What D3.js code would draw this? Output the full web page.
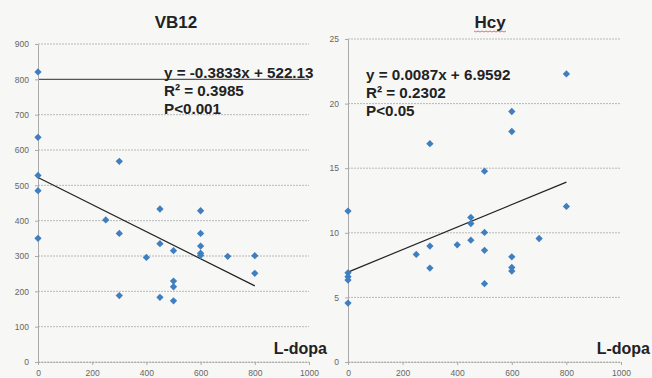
<!DOCTYPE html>
<html><head><meta charset="utf-8">
<script src="https://cdn.jsdelivr.net/npm/d3@7"></script>
<style>
html,body{margin:0;padding:0;background:#f7f7f5;}
svg{display:block;}
</style></head>
<body>
<svg id="c" width="652" height="378"></svg>
<script>
// ---- data ----
const xTicks = [0, 200, 400, 600, 800, 1000];
const vbTicks = [0, 100, 200, 300, 400, 500, 600, 700, 800, 900];
const hcyTicks = [0, 5, 10, 15, 20, 25];

const vbDose = [0,0,0,0,0, 250, 300,300,300, 400, 450,450,450, 500,500,500,500, 600,600,600,600,600, 700, 800,800];
const vbVals = [821,636,528,485,350, 402, 568,364,188, 296, 433,335,183, 315,229,213,173, 428,364,328,308,302, 299, 301,251];

const hcyDose = [0,0,0,0,0, 250, 300,300,300, 400, 450,450,450, 500,500,500,500, 600,600,600,600,600, 700, 800,800];
const hcyVals = [11.68,6.9,6.6,6.34,4.56, 8.33, 16.9,8.97,7.27, 9.07, 11.19,10.72,9.43, 14.77,10.03,8.64,6.06, 19.39,17.84,8.14,7.32,7.04, 9.56, 22.3,12.04];

const vbFit = {slope: -0.3833, intercept: 522.13, xmax: 800};
const hcyFit = {slope: 0.0087, intercept: 6.9592, xmax: 800};
const vbText = ["y = -0.3833x + 522.13", "R\u00b2 = 0.3985", "P<0.001"];
const hcyText = ["y = 0.0087x + 6.9592", "R\u00b2 = 0.2302", "P<0.05"];

const svg = d3.select("#c");
const font = "Liberation Sans, Arial, sans-serif";

function panel(opt) {
  const g = svg.append("g");
  const x = d3.scaleLinear().domain([0, 1000]).range([opt.x0, opt.x1]);
  const y = d3.scaleLinear().domain([0, opt.ymax]).range([opt.y0, opt.y1]);

  // gridlines
  g.selectAll(".grid").data(opt.yTicks).join("line")
    .attr("x1", opt.x0).attr("x2", opt.x1)
    .attr("y1", d => y(d)).attr("y2", d => y(d))
    .attr("stroke", d => d === opt.darkGrid ? "#555" : "#b8b8b8")
    .attr("stroke-width", d => d === opt.darkGrid ? 1.1 : 1)
    .attr("stroke-dasharray", d => d === opt.darkGrid ? null : "2,1");

  // y axis
  const ya = g.append("g").attr("transform", `translate(${opt.x0},0)`)
    .call(d3.axisLeft(y).tickValues(opt.yTicks).tickSize(3).tickSizeOuter(0).tickFormat(d3.format("d")));
  ya.select(".domain").attr("stroke", "#aaa");
  ya.selectAll(".tick line").attr("stroke", "#aaa");
  ya.selectAll("text").attr("fill", "#666").attr("font-size", 8.5).attr("font-family", font).attr("dx", -3);

  // x axis
  const xa = g.append("g").attr("transform", `translate(0,${opt.y0})`)
    .call(d3.axisBottom(x).tickValues(xTicks).tickSize(3).tickSizeOuter(0).tickFormat(d3.format("d")));
  xa.select(".domain").attr("stroke", "#aaa").attr("stroke-dasharray", "2,1");
  xa.selectAll(".tick line").attr("stroke", "#aaa");
  xa.selectAll("text").attr("fill", "#666").attr("font-size", 8.5).attr("font-family", font).attr("dy", "0.9em");

  // trendline
  g.append("line")
    .attr("x1", x(0)).attr("y1", y(opt.fit.intercept))
    .attr("x2", x(opt.fit.xmax)).attr("y2", y(opt.fit.slope * opt.fit.xmax + opt.fit.intercept))
    .attr("stroke", "#222").attr("stroke-width", 1.2);

  // points
  const diamond = d3.symbol().type(d3.symbolDiamond2).size(34);
  g.selectAll(".pt").data(opt.dose.map((d, i) => [d, opt.vals[i]])).join("path")
    .attr("d", diamond)
    .attr("transform", d => `translate(${x(d[0])},${y(d[1])})`)
    .attr("fill", "#3f7fbf");

  // title
  g.append("text").attr("x", opt.titleX).attr("y", 28).attr("text-anchor", "middle")
    .attr("font-family", font).attr("font-weight", "bold").attr("font-size", 17).attr("fill", "#222")
    .text(opt.title);

  // equation text
  opt.eq.forEach((t, i) => {
    g.append("text").attr("x", opt.eqX).attr("y", opt.eqY + i * 18)
      .attr("font-family", font).attr("font-weight", "bold").attr("font-size", 15.2).attr("fill", "#222")
      .text(t);
  });

  // L-dopa label
  g.append("text").attr("x", opt.labelX).attr("y", 354).attr("text-anchor", "end")
    .attr("font-family", font).attr("font-weight", "bold").attr("font-size", 16).attr("fill", "#222")
    .text("L-dopa");
  return g;
}

panel({x0: 38, x1: 309, y0: 362, y1: 44, ymax: 900, yTicks: vbTicks, dose: vbDose, vals: vbVals,
  fit: vbFit, eq: vbText, eqX: 164, eqY: 78, title: "VB12", titleX: 176, darkGrid: 800, labelX: 327});
panel({x0: 348, x1: 621, y0: 362, y1: 39, ymax: 25, yTicks: hcyTicks, dose: hcyDose, vals: hcyVals,
  fit: hcyFit, eq: hcyText, eqX: 366, eqY: 80, title: "Hcy", titleX: 490, darkGrid: null, labelX: 650});

// spell-check squiggle under "Hcy"
const sq = d3.range(0, 17).map(i => [474 + i * 2, 31 + (i % 2 ? 1 : 0)]);
svg.append("path").attr("d", d3.line()(sq)).attr("fill", "none").attr("stroke", "#d05050").attr("stroke-width", 0.8);
</script>
</body></html>
